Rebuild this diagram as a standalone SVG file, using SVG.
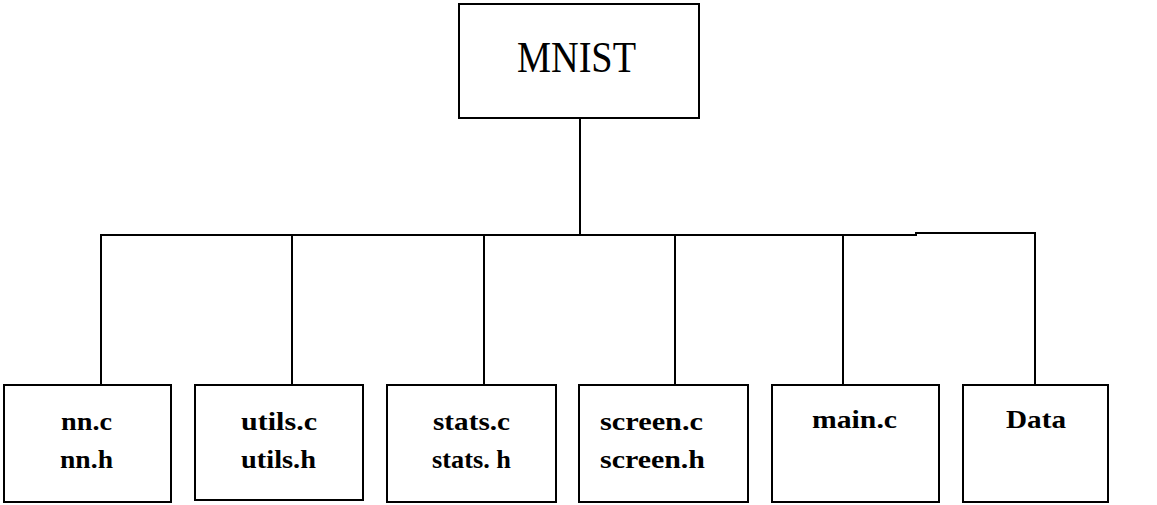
<svg xmlns="http://www.w3.org/2000/svg" width="1157" height="505" viewBox="0 0 1157 505">
<style>
.box{fill:#fff;stroke:#000;stroke-width:2}
.ln{fill:none;stroke:#000;stroke-width:2}
.t{font-family:"Liberation Serif","Times New Roman",serif;font-weight:bold;font-size:26px;fill:#000}
.title{font-family:"Liberation Serif","Times New Roman",serif;font-size:44px;fill:#000}
</style>
<rect width="1157" height="505" fill="#fff"/>
<g id="connectors">
<line class="ln" x1="580" y1="118" x2="580" y2="235"/>
<polyline class="ln" points="101,385 101,235 916,235 916,233 1035,233 1035,385"/>
<line class="ln" x1="292" y1="235" x2="292" y2="385"/>
<line class="ln" x1="484" y1="235" x2="484" y2="385"/>
<line class="ln" x1="675" y1="235" x2="675" y2="385"/>
<line class="ln" x1="843" y1="235" x2="843" y2="385"/>
</g>
<g id="mnist">
<rect class="box" x="459" y="4" width="240" height="114"/>
<text class="title" x="517" y="72" textLength="119" lengthAdjust="spacingAndGlyphs">MNIST</text>
</g>
<g id="nn">
<rect class="box" x="4" y="385" width="167" height="117"/>
<text class="t" x="61" y="430" textLength="51" lengthAdjust="spacingAndGlyphs">nn.c</text>
<text class="t" x="60" y="468" textLength="53" lengthAdjust="spacingAndGlyphs">nn.h</text>
</g>
<g id="utils">
<rect class="box" x="195" y="385" width="168" height="115"/>
<text class="t" x="241" y="430" textLength="76" lengthAdjust="spacingAndGlyphs">utils.c</text>
<text class="t" x="241" y="468" textLength="75" lengthAdjust="spacingAndGlyphs">utils.h</text>
</g>
<g id="stats">
<rect class="box" x="387" y="385" width="169" height="117"/>
<text class="t" x="433" y="430" textLength="77" lengthAdjust="spacingAndGlyphs">stats.c</text>
<text class="t" x="432" y="468" textLength="79" lengthAdjust="spacingAndGlyphs">stats. h</text>
</g>
<g id="screen">
<rect class="box" x="579" y="385" width="169" height="117"/>
<text class="t" x="600" y="430" textLength="103" lengthAdjust="spacingAndGlyphs">screen.c</text>
<text class="t" x="600" y="468" textLength="105" lengthAdjust="spacingAndGlyphs">screen.h</text>
</g>
<g id="main">
<rect class="box" x="772" y="385" width="167" height="117"/>
<text class="t" x="812" y="428" textLength="85" lengthAdjust="spacingAndGlyphs">main.c</text>
</g>
<g id="data">
<rect class="box" x="963" y="385" width="145" height="117"/>
<text class="t" x="1006" y="428" textLength="60" lengthAdjust="spacingAndGlyphs">Data</text>
</g>
</svg>
